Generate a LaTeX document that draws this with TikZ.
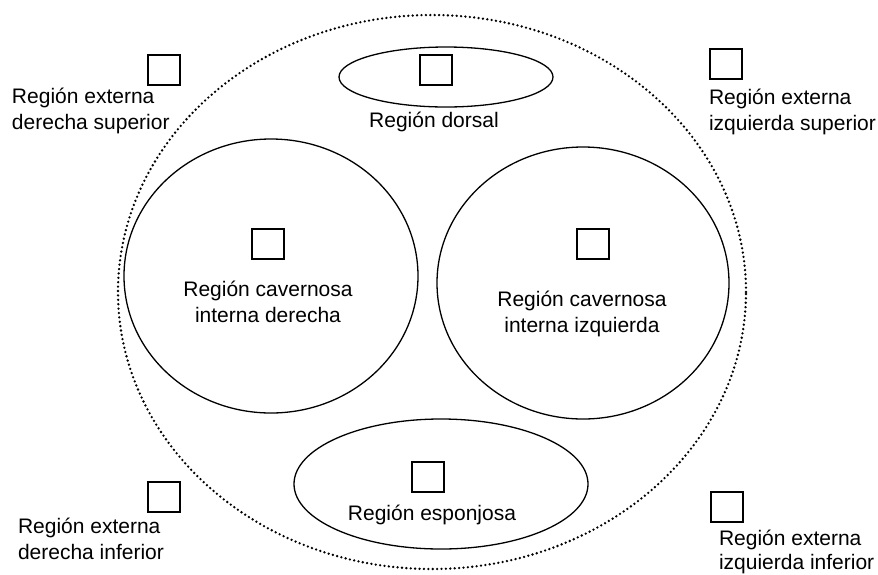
\documentclass[tikz,border=0pt]{standalone}
\usepackage{fontspec}
\setmainfont{Liberation Sans}
\usetikzlibrary{shapes.geometric}
\begin{document}
\begin{tikzpicture}[x=1pt,y=-1pt,
  region/.style={draw=black,line width=1.3pt,ellipse,inner sep=0pt},
  outerregion/.style={draw=black,line width=2.6pt,ellipse,inner sep=0pt,dash pattern=on 0pt off 4.4pt,line cap=round},
  sq/.style={draw=black,line width=2.4pt,rectangle,inner sep=0pt,minimum width=32.5pt,minimum height=30.5pt},
  lbl/.style={inner sep=0pt,outer sep=0pt,font=\fontsize{21}{26}\selectfont},
  lblc/.style={lbl,align=center,anchor=base},
  lbll/.style={lbl,align=left,anchor=base west}]
\useasboundingbox (0,0) rectangle (878,574);
\fill[white] (0,0) rectangle (878,574);
% outer dotted region
\node[outerregion,minimum width=628pt,minimum height=554pt] (outer) at (432,292) {};
% inner regions
\node[region,minimum width=294pt,minimum height=274pt] (cavR) at (271,276) {};
\node[region,minimum width=292pt,minimum height=272pt] (cavL) at (583,283) {};
\node[region,minimum width=214pt,minimum height=60pt] (dorsal) at (446,77) {};
\node[region,minimum width=294pt,minimum height=130pt] (espon) at (441,484) {};
% squares
\node[sq] (sqdorsal) at (436,70) {};
\node[sq] (sqcavR) at (268,244) {};
\node[sq] (sqcavL) at (593,244) {};
\node[sq] (sqespon) at (428,477) {};
\node[sq] (sqTL) at (164,70) {};
\node[sq] (sqTR) at (726,64) {};
\node[sq] (sqBL) at (164,497) {};
\node[sq] (sqBR) at (727,507) {};
% labels (base anchor = baseline of last line)
\node[lblc] (tdorsal) at (434,127) {Región dorsal};
\node[lblc] (tcavR) at (268,322) {Región cavernosa\\interna derecha};
\node[lblc] (tcavL) at (582,332) {Región cavernosa\\interna izquierda};
\node[lblc] (tespon) at (432,520) {Región esponjosa};
\node[lbll] (tTL) at (12,129) {Región externa\\derecha superior};
\node[lbll] (tTR) at (709,130) {Región externa\\izquierda superior};
\node[lbll] (tBL) at (18,559) {Región externa\\derecha inferior};
\node[lbll,font=\fontsize{21}{24}\selectfont] (tBR) at (719,569) {Región externa\\izquierda inferior};
\end{tikzpicture}
\end{document}
